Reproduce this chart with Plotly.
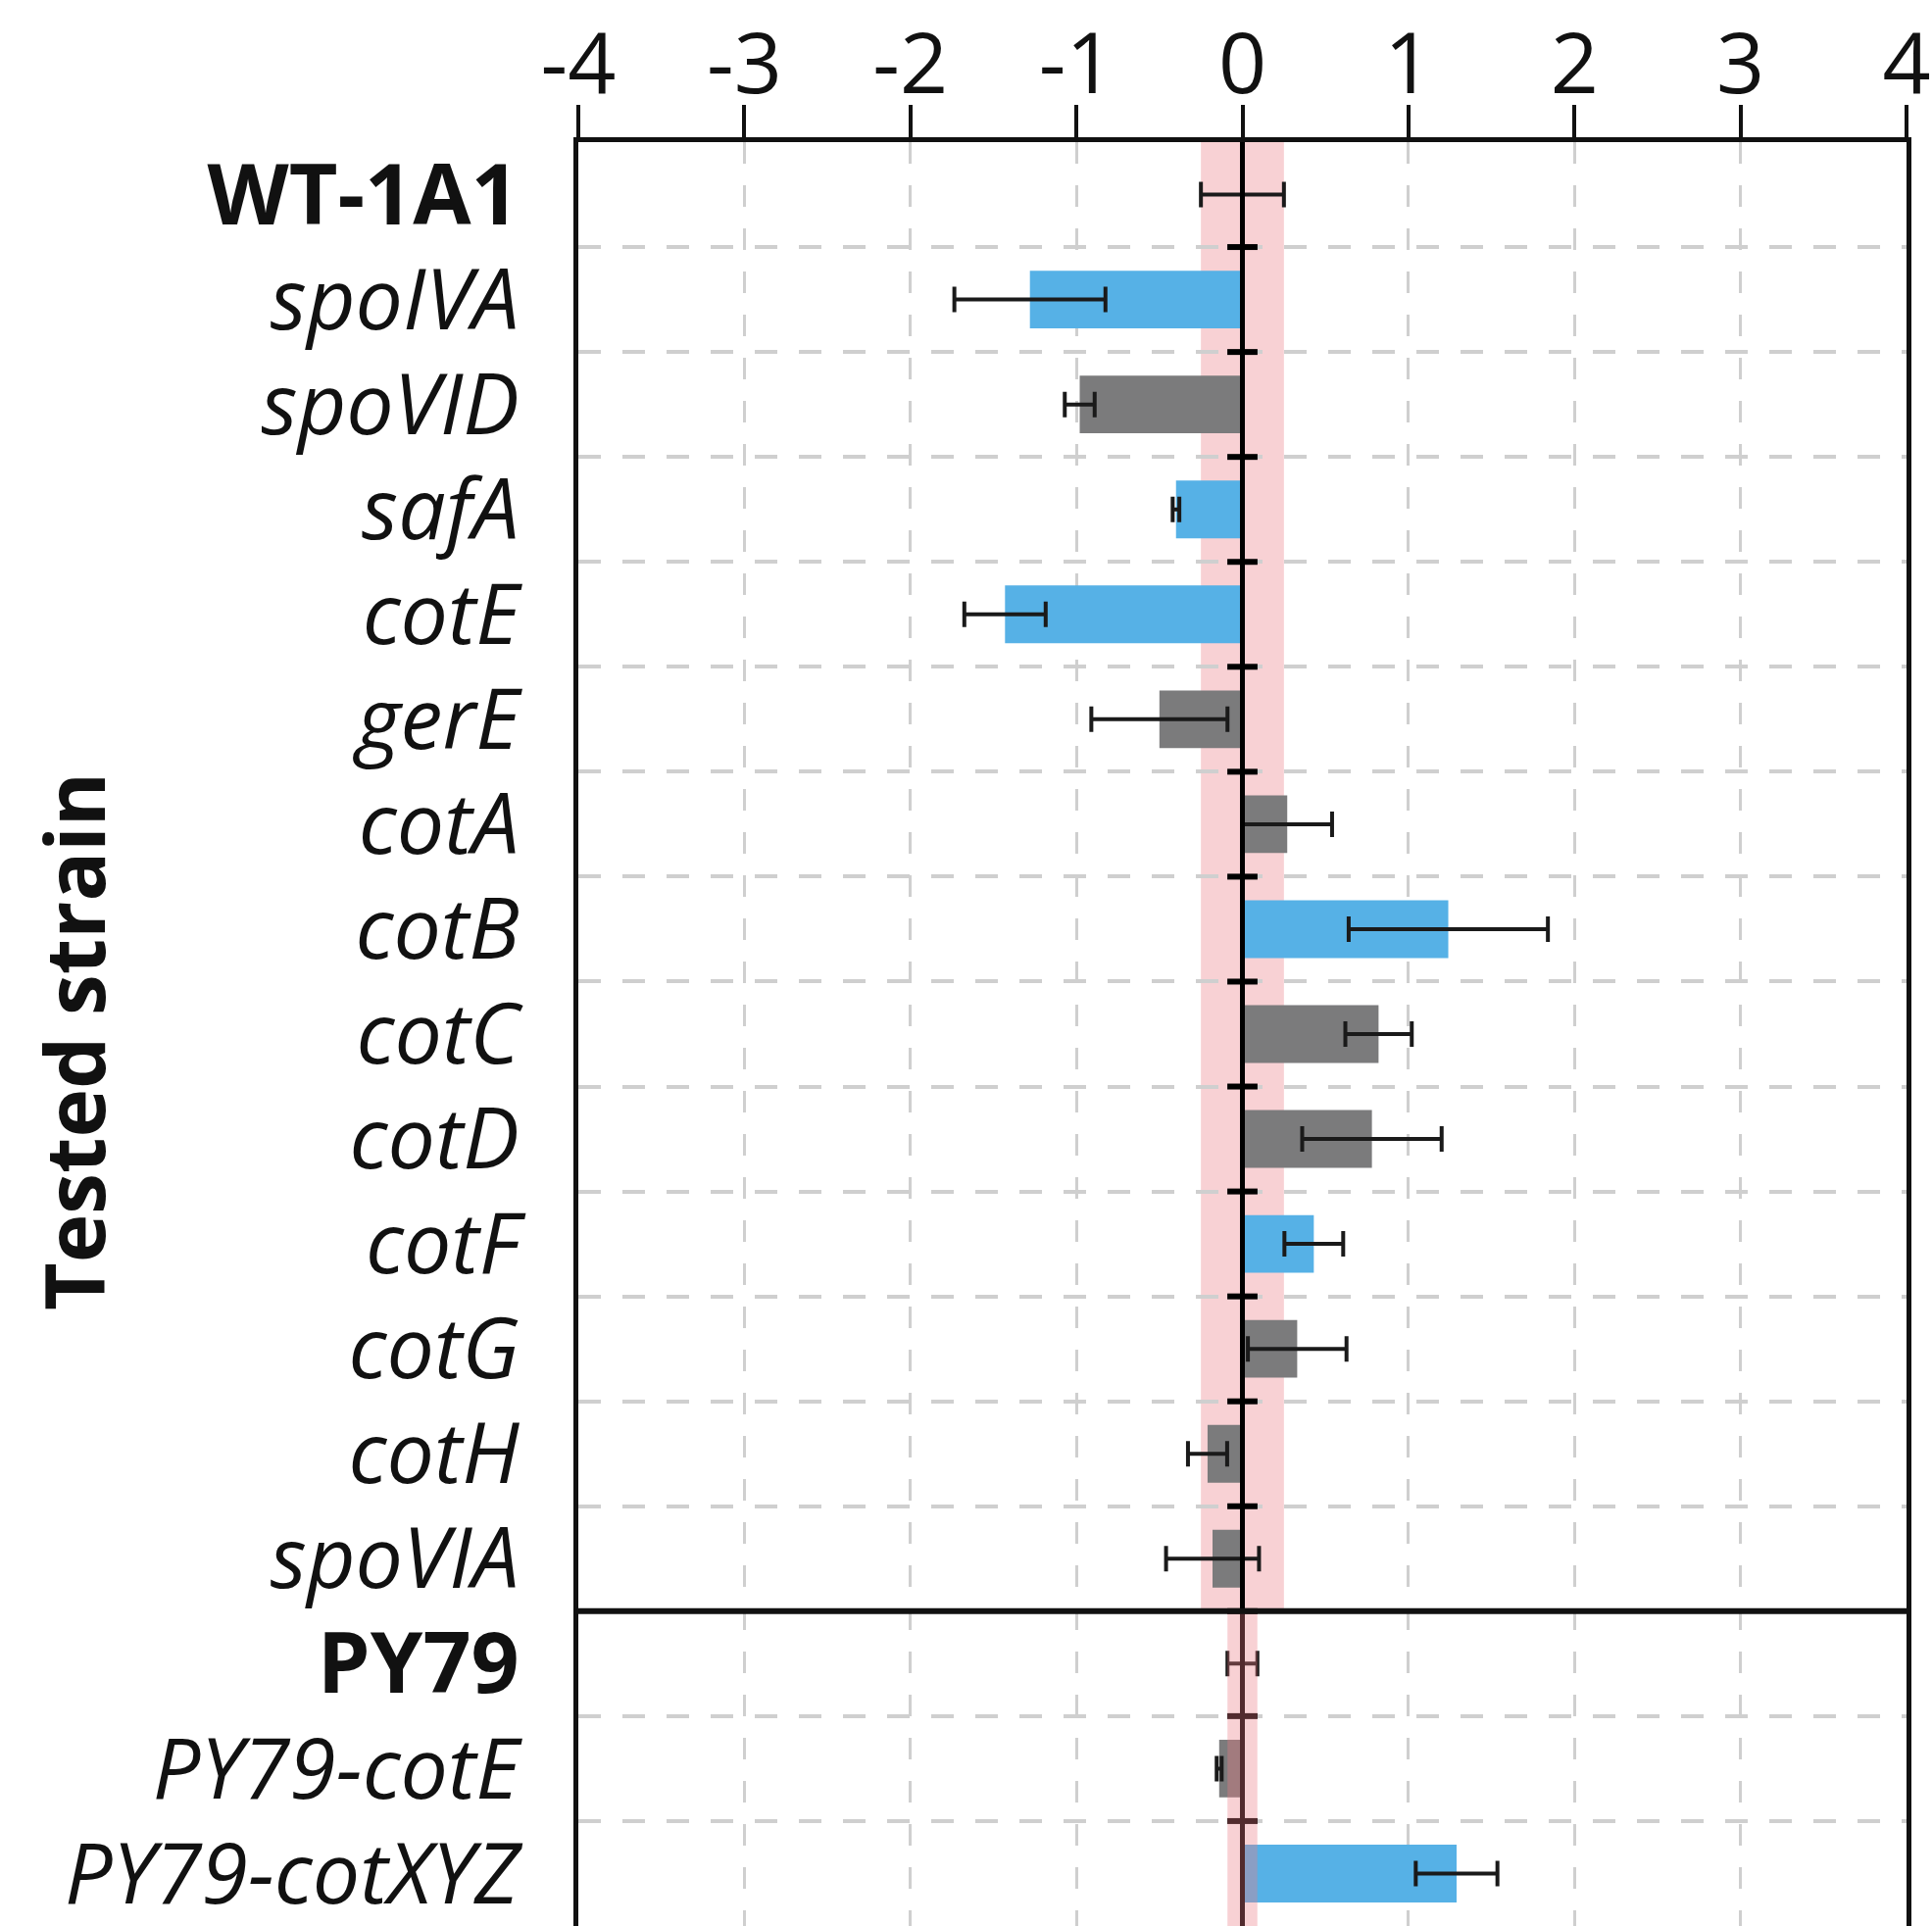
import plotly.graph_objects as go

strains = ["WT-1A1", "spoIVA", "spoVID", "safA", "cotE", "gerE", "cotA", "cotB",
           "cotC", "cotD", "cotF", "cotG", "cotH", "spoVIA", "PY79", "PY79-cotE",
           "PY79-cotXYZ"]
log_change = [0.0, -1.28, -0.98, -0.40, -1.43, -0.50, 0.27, 1.24,
              0.82, 0.78, 0.43, 0.33, -0.21, -0.18, 0.0, -0.14, 1.29]
std_err = [0.25, 0.455, 0.09, 0.02, 0.245, 0.41, 0.27, 0.60,
           0.20, 0.42, 0.177, 0.297, 0.118, 0.28, 0.09, 0.015, 0.246]
significant = [False, True, False, True, True, False, False, True,
               False, False, True, False, False, False, False, False, True]
controls = ["WT-1A1", "PY79"]
x_ticks = [-4, -3, -2, -1, 0, 1, 2, 3, 4]

BLUE = "#56B1E6"
GRAY = "#7b7b7c"
PINK = "#f8d1d4"
FONT = "Open Sans"

idx = list(range(len(strains)))
ticktext = [f"<b>{s}</b>" if s in controls else f"<i>{s}</i>" for s in strains]
colors = [BLUE if s else GRAY for s in significant]
py_i = strains.index("PY79")
wt_i = strains.index("WT-1A1")

fig = go.Figure()
fig.add_trace(go.Bar(
    x=log_change, y=idx, orientation="h", width=0.55,
    marker=dict(color=colors, line=dict(width=0)),
    error_x=dict(type="data", array=std_err, visible=True,
                 color="#1a1a1a", thickness=4, width=13),
    showlegend=False, hoverinfo="x+y"))

bounds = [k + 0.5 for k in idx[:-1]]
fig.add_trace(go.Scatter(
    x=[0] * len(bounds), y=bounds, mode="markers",
    marker=dict(symbol="line-ew", size=22, line=dict(width=6, color="black")),
    showlegend=False, hoverinfo="skip"))

# control bands (mean +/- SD of each control strain)
fig.add_shape(type="rect", xref="x", yref="y", layer="below",
              x0=log_change[wt_i] - std_err[wt_i], x1=log_change[wt_i] + std_err[wt_i],
              y0=wt_i - 0.5, y1=py_i - 0.5, fillcolor=PINK, line=dict(width=0))
# zero line
fig.add_shape(type="line", xref="x", yref="paper", layer="above",
              x0=0, x1=0, y0=0, y1=1, line=dict(color="black", width=5))
fig.add_shape(type="rect", xref="x", yref="y", layer="above",
              x0=log_change[py_i] - std_err[py_i], x1=log_change[py_i] + std_err[py_i],
              y0=py_i - 0.5, y1=len(strains) - 0.5, fillcolor="#eb7c84",
              opacity=0.35, line=dict(width=0))
# separator between strain groups
fig.add_shape(type="line", xref="paper", yref="y", layer="above",
              x0=0, x1=1, y0=py_i - 0.5, y1=py_i - 0.5,
              line=dict(color="#111111", width=6))

fig.update_layout(
    width=1971, height=1965,
    margin=dict(l=590, r=26, t=145, b=0, autoexpand=False),
    paper_bgcolor="white", plot_bgcolor="white",
    font=dict(family=FONT, color="#111111"),
    bargap=0.45,
    xaxis=dict(side="top", range=[-4, 4], tickvals=x_ticks,
               ticktext=[str(v) for v in x_ticks], automargin=False,
               tickfont=dict(size=86, family=FONT, color="#111111"),
               ticks="outside", ticklen=33, tickwidth=4, tickcolor="#111111",
               showline=True, linewidth=5, linecolor="#111111", mirror=False,
               showgrid=True, gridcolor="#cfcfcf", gridwidth=2.5,
               griddash="22px,22px", zeroline=False, ticklabelstandoff=-22),
    yaxis=dict(range=[len(strains) - 0.5, -0.5], tickvals=idx, ticktext=ticktext,
               tickfont=dict(size=86, family=FONT, color="#111111"),
               ticks="", showline=True, linewidth=5, linecolor="#111111",
               mirror=True, showgrid=False, zeroline=False, automargin=False,
               ticklabelstandoff=38, ticklabeloverflow="allow",
               minor=dict(tickmode="array", tickvals=bounds, showgrid=True,
                          gridcolor="#cfcfcf", gridwidth=4,
                          griddash="23px,22px", ticks="")),
    annotations=[dict(text="<b>Tested strain</b>", xref="paper", yref="paper",
                      x=(74 - 590) / 1355, y=(1965 - 1063) / 1820,
                      xanchor="center", yanchor="middle", textangle=-90,
                      showarrow=False, font=dict(size=84, family=FONT, color="#111111"))],
)

fig.write_html("out.html", config={"displayModeBar": False},
               post_script="document.body.style.margin='0';")
